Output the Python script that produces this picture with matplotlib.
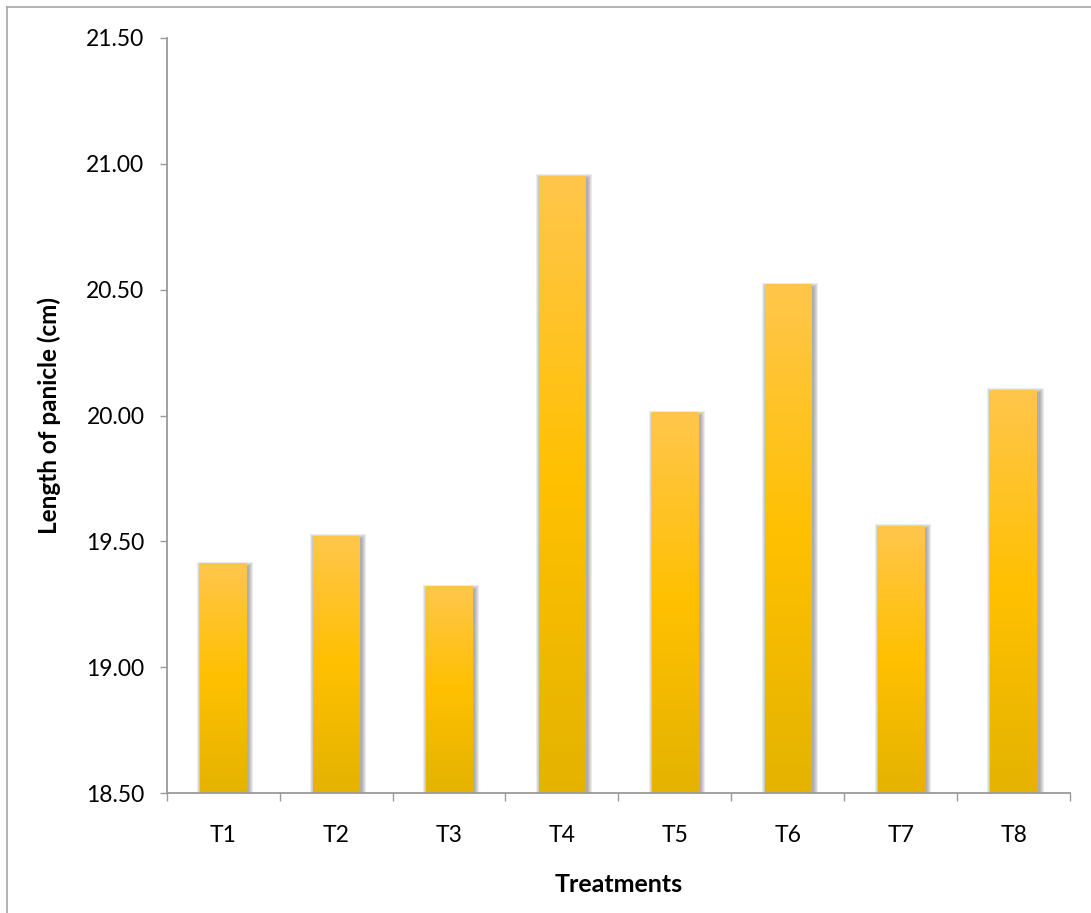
import numpy as np
import matplotlib
matplotlib.use('Agg')
import matplotlib.pyplot as plt
from matplotlib.colors import LinearSegmentedColormap
from matplotlib.patches import Rectangle
from matplotlib.lines import Line2D

plt.rcParams['font.family'] = ['Lato', 'DejaVu Sans']

treatments = ['T1', 'T2', 'T3', 'T4', 'T5', 'T6', 'T7', 'T8']
panicle_length = [19.41, 19.52, 19.32, 20.95, 20.01, 20.52, 19.56, 20.10]
y_ticks = [18.5, 19.0, 19.5, 20.0, 20.5, 21.0, 21.5]

fig = plt.figure(figsize=(10.91, 9.13), dpi=100)
ax = fig.add_axes([0.1528, 0.1314, 0.828, 0.827])

ymin, ymax = 18.5, 21.5

# gradient fill like the excel bars
cmap = LinearSegmentedColormap.from_list('gold', ['#E4B300', '#FFC000', '#FFC64C'])
grad = np.linspace(0, 1, 256).reshape(-1, 1)

w = 0.41
px_x = 1 / 113.0   # one pixel in data units
px_y = 3.0 / 755.0

for i, val in enumerate(panicle_length):
    x0 = i - w / 2
    # soft shadow, a few layers
    for r in range(5, 0, -1):
        ax.add_patch(Rectangle((x0 + (2 - r) * px_x, ymin),
                               w + 2 * r * px_x, (val - ymin) - (3 - r) * px_y,
                               facecolor='#404040', edgecolor='none',
                               alpha=0.1, zorder=1))
    ax.imshow(grad, cmap=cmap, origin='lower', aspect='auto',
              extent=(x0, x0 + w, ymin, val), zorder=2, interpolation='bilinear')

ax.set_xlim(-0.5, len(treatments) - 0.5)
ax.set_ylim(ymin, ymax)

ax.set_yticks(y_ticks)
ax.set_yticklabels(['%.2f' % t for t in y_ticks])
ax.set_xticks(range(len(treatments)))
ax.set_xticklabels(treatments)
ax.set_xticks(np.arange(-0.5, len(treatments)), minor=True)

for s in ['top', 'right']:
    ax.spines[s].set_visible(False)
for s in ['left', 'bottom']:
    ax.spines[s].set_color('#9A9A9A')
    ax.spines[s].set_linewidth(1.3)

ax.tick_params(axis='y', direction='out', length=5, width=1, color='#9A9A9A',
               labelsize=16.5, pad=11)
ax.tick_params(axis='x', which='major', length=0, labelsize=16.5, pad=23)
ax.tick_params(axis='x', which='minor', direction='out', length=6, width=1,
               color='#9A9A9A')

ax.set_ylabel('Length of panicle (cm)', fontsize=17.5, fontweight='bold')
ax.yaxis.set_label_coords(-0.117, 0.5)
ax.set_xlabel('Treatments', fontsize=18, fontweight='bold')
ax.xaxis.set_label_coords(0.5, -0.106)

# thin frame on the left and top edge of the picture
fig.add_artist(Line2D([7 / 1091, 7 / 1091], [0, 1 - 7 / 913], transform=fig.transFigure,
                      color='#A6A6A6', lw=1.2))
fig.add_artist(Line2D([7 / 1091, 1], [1 - 7 / 913, 1 - 7 / 913], transform=fig.transFigure,
                      color='#A6A6A6', lw=1.2))

fig.savefig('out.png', dpi=100)
